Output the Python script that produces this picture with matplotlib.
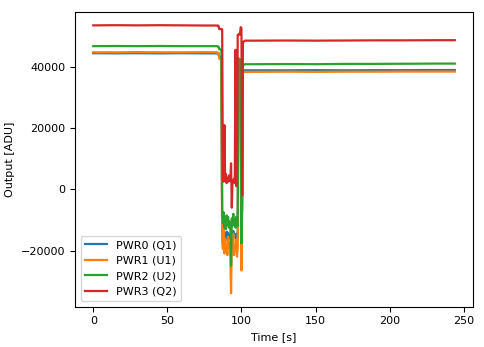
import numpy as np
import matplotlib
matplotlib.use("Agg")
import matplotlib.pyplot as plt

# time samples [s]
t_pre = [0, 15, 30, 45, 60, 75, 83.5]
t_mid = list(np.arange(84.0, 103.01, 0.5))
t_post = [110, 130, 150, 170, 190, 210, 230, 244]
time = t_pre + t_mid + t_post

labels = ["PWR0 (Q1)", "PWR1 (U1)", "PWR2 (U2)", "PWR3 (Q2)"]

pwr0_pre = [44500, 44450, 44500, 44450, 44500, 44450, 44450]
pwr0_mid = [44400, 44400, 43400, 43400, 43300, 43300, -14000, -15500, -13500,
            -16000, -14500, -16500, -13800, -15200, -14200, -16000, -14800, -15500,
            -16200, -14000, -15800, -13600, -15000, -14600, -16000, -14500, -15200,
            -15800, 40200, 40100, 40000, 39800, -15000, -6000, 38600, 38800,
            38900, 38900, 38900]
pwr0_post = [38900, 38900, 38950, 38900, 38950, 38950, 39000, 39000]

pwr1_pre = [44800, 44800, 44850, 44800, 44800, 44850, 44800]
pwr1_mid = [44700, 44700, 42800, 42600, 42500, 42400, -17000, -19500, -12500,
            -21000, -16000, -20500, -18000, -21500, -15500, -19000, -17500, -21000,
            -34000, -17000, -20000, -14500, -21500, -18500, -20000, -16500, -22000,
            -19000, 40600, 40500, 40400, 40300, -26500, -3000, 38000, 38300,
            38400, 38400, 38400]
pwr1_post = [38400, 38450, 38400, 38450, 38450, 38500, 38500, 38500]

pwr2_pre = [46800, 46850, 46800, 46850, 46800, 46800, 46800]
pwr2_mid = [46700, 46700, 45800, 45800, 45700, 45600, -8000, -11000, -7500,
            -12500, -10000, -13000, -8500, -11500, -9000, -12500, -10500, -11000,
            -25000, -9500, -12000, -8000, -11000, -10000, -12500, -9000, -11500,
            -12000, 42800, 42600, 42500, 42000, -17700, -2000, 40300, 40700,
            40800, 40900, 40900]
pwr2_post = [40900, 40950, 40900, 41000, 41000, 41050, 41100, 41100]

pwr3_pre = [53600, 53650, 53600, 53650, 53600, 53550, 53550]
pwr3_mid = [53500, 53500, 52400, 52400, 52400, 52400, 52300, 4000, 2500,
            21000, 3000, 5000, 2000, 3500, 2500, 4500, 2800, 3000,
            8500, -6000, 3000, 2500, 3500, 2000, 45600, 1000, 1500,
            50500, 50500, 50800, 50600, 53000, 52800, -2000, 47800, 48300,
            48500, 48600, 48600]
pwr3_post = [48600, 48650, 48600, 48650, 48700, 48700, 48750, 48750]

series = [pwr0_pre + pwr0_mid + pwr0_post,
          pwr1_pre + pwr1_mid + pwr1_post,
          pwr2_pre + pwr2_mid + pwr2_post,
          pwr3_pre + pwr3_mid + pwr3_post]

fig = plt.figure(figsize=(4.85, 3.47), dpi=100)
ax = fig.add_axes([0.155, 0.116, 0.82, 0.85])
for vals, lab in zip(series, labels):
    ax.plot(time, vals, label=lab, linewidth=1.6)

ax.set_xlabel("Time [s]", fontsize=8)
ax.set_ylabel("Output [ADU]", fontsize=8)
ax.tick_params(labelsize=8)
ax.set_yticks([-20000, 0, 20000, 40000])
ax.legend(loc="lower left", fontsize=8)
fig.savefig("out.png", dpi=100)
